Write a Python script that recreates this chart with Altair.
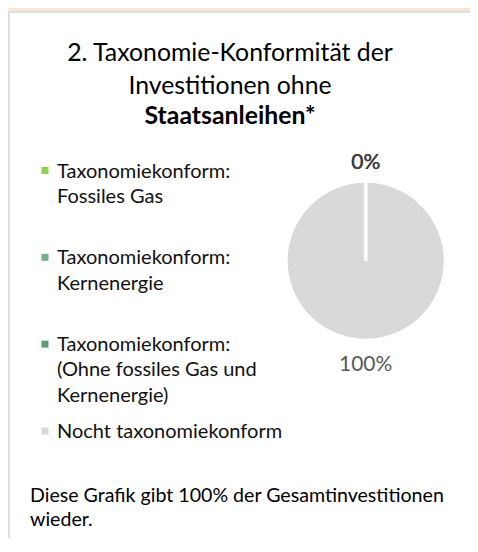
import altair as alt
import pandas as pd

# ---- data ----
categories = [
    "Taxonomiekonform: Fossiles Gas",
    "Taxonomiekonform: Kernenergie",
    "Taxonomiekonform: (Ohne fossiles Gas und Kernenergie)",
    "Nocht taxonomiekonform",
]
legend_lines = [
    ["Taxonomiekonform:", "Fossiles Gas"],
    ["Taxonomiekonform:", "Kernenergie"],
    ["Taxonomiekonform:", "(Ohne fossiles Gas und", "Kernenergie)"],
    ["Nocht taxonomiekonform"],
]
values = [0, 0, 0, 100]
colors = ["#92D050", "#72B08E", "#5E9B78", "#D9D9D9"]
title_lines = ["2. Taxonomie-Konformität der", "Investitionen ohne"]
title_bold = "Staatsanleihen*"
footer_lines = ["Diese Grafik gibt 100% der Gesamtinvestitionen", "wieder."]

FONT = "Lato"
W, H = 462, 530
CX, CY = 357.7, 252.8

df = pd.DataFrame({
    "cat": categories,
    "value": values,
    "order": list(range(len(categories))),
    "label": ["\n".join(l) for l in legend_lines],
    "pct": [f"{v}%" for v in values],
})

one = pd.DataFrame({"k": [0]})

panel = alt.Chart(one).mark_rect(fill="white").encode(
    x=alt.value(1), x2=alt.value(W), y=alt.value(4), y2=alt.value(H)
)
border_left = alt.Chart(one).mark_rule(color="#D3DAE2", strokeWidth=1.5).encode(
    x=alt.value(1), y=alt.value(4), y2=alt.value(H)
)
border_top = alt.Chart(one).mark_rule(color="#D3DAE2", strokeWidth=1.5).encode(
    x=alt.value(1), x2=alt.value(W), y=alt.value(4)
)

color_scale = alt.Scale(domain=categories, range=colors)
theta = alt.Theta("value:Q", stack=True)
order = alt.Order("order:Q")

pie = alt.Chart(df).mark_arc(outerRadius=79.5, stroke="white", strokeWidth=3).encode(
    theta=theta,
    order=order,
    color=alt.Color("cat:N", scale=color_scale, legend=None),
    x=alt.value(CX),
    y=alt.value(CY),
)

# zero-size slices drawn on top so their white outline shows as a gap line
pie_zero = alt.Chart(df).transform_filter("datum.value == 0").mark_arc(
    outerRadius=79.5, stroke="white", strokeWidth=3
).encode(
    theta=theta,
    order=order,
    color=alt.Color("cat:N", scale=color_scale, legend=None),
    x=alt.value(CX),
    y=alt.value(CY),
)

pct_labels = alt.Chart(df).mark_text(
    radius=101, dy=3.4, font=FONT, fontSize=21, baseline="middle", align="center"
).encode(
    theta=theta,
    order=order,
    text="pct:N",
    color=alt.condition("datum.value == 0", alt.value("#404040"), alt.value("#595959")),
    x=alt.value(CX),
    y=alt.value(CY),
)

ypos = alt.Y(
    "cat:N",
    scale=alt.Scale(domain=categories, type="point", padding=0, range=[162.5, 423]),
    axis=None,
)

squares = alt.Chart(df).mark_square(size=49, opacity=1).encode(
    x=alt.value(37),
    y=ypos,
    color=alt.Color("cat:N", scale=color_scale, legend=None),
)

legend_text = alt.Chart(df).mark_text(
    align="left", baseline="alphabetic", dy=7, font=FONT, fontSize=20,
    lineBreak="\n", lineHeight=25.3, color="#111111",
).encode(
    x=alt.value(49),
    y=ypos,
    text="label:N",
)

title_df = pd.DataFrame({"t": ["\n".join(title_lines)]})
title1 = alt.Chart(title_df).mark_text(
    align="center", baseline="alphabetic", font=FONT, fontSize=24.8,
    lineBreak="\n", lineHeight=33, color="#000000",
).encode(x=alt.value(222), y=alt.value(53), text="t:N")

title2 = alt.Chart(pd.DataFrame({"t": [title_bold]})).mark_text(
    align="center", baseline="alphabetic", font=FONT, fontSize=24.8,
    fontWeight="bold", color="#000000",
).encode(x=alt.value(222), y=alt.value(116), text="t:N")

footer = alt.Chart(pd.DataFrame({"t": ["\n".join(footer_lines)]})).mark_text(
    align="left", baseline="alphabetic", font=FONT, fontSize=19.6,
    lineBreak="\n", lineHeight=23.5, color="#000000",
).encode(x=alt.value(22), y=alt.value(494), text="t:N")

chart = alt.layer(
    panel, border_left, border_top, pie, pie_zero, pct_labels, squares, legend_text,
    title1, title2, footer,
).properties(
    width=W, height=H, padding=0,
    autosize=alt.AutoSizeParams(type="fit", contains="padding"),
    background="#FBE5D6",
).configure_view(strokeWidth=0)

chart.save("out.html", embed_options={"renderer": "svg", "actions": False})
